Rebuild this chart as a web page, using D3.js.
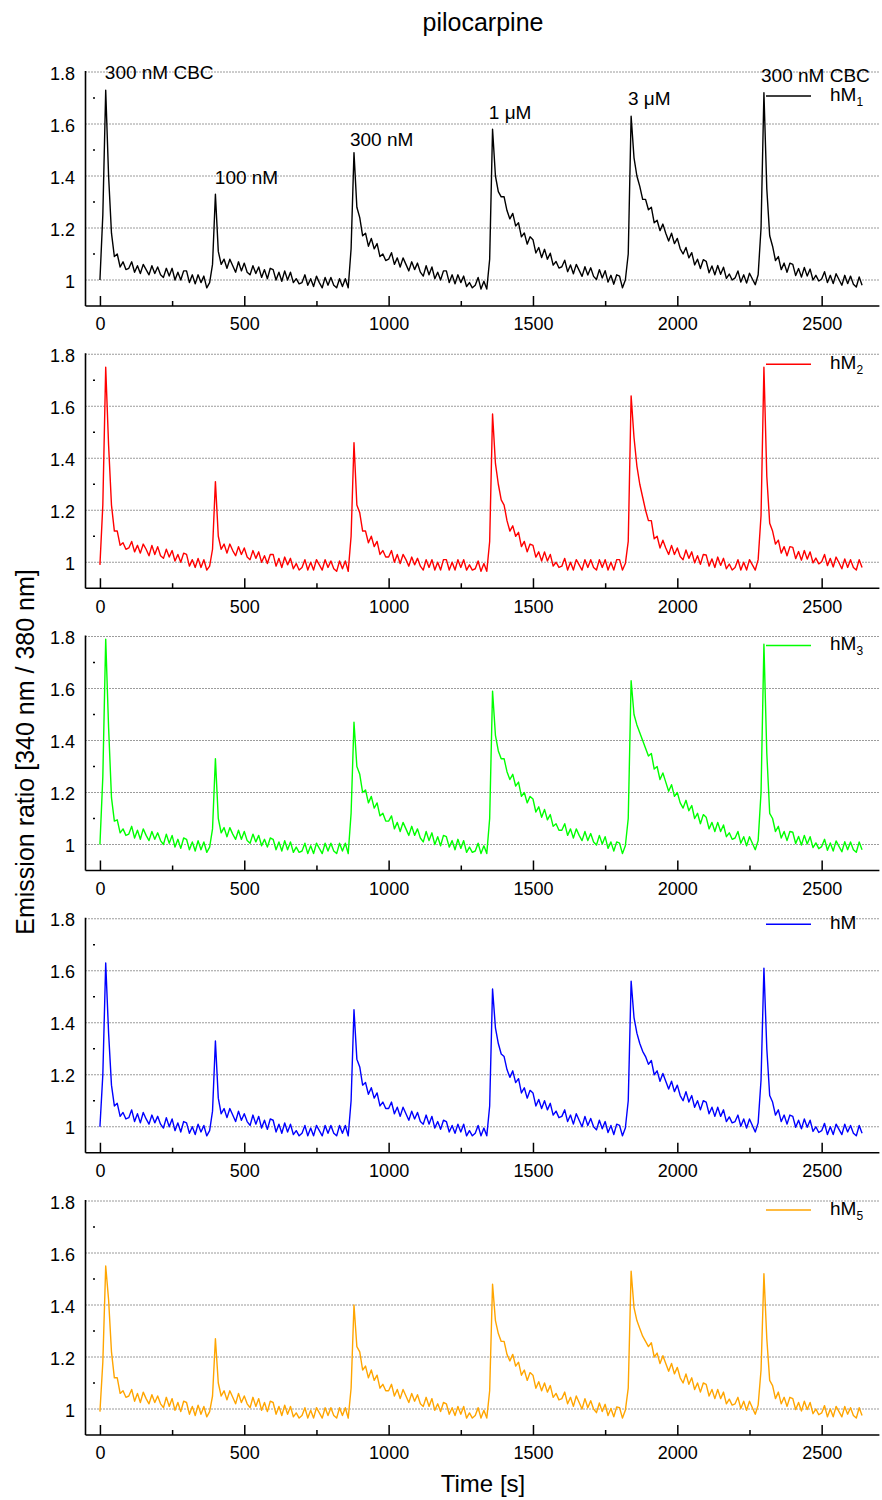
<!DOCTYPE html>
<html>
<head>
<meta charset="utf-8">
<script src="https://cdn.jsdelivr.net/npm/d3@7"></script>
<style>
  body { margin: 0; background: #fff; }
  text { font-family: "Liberation Sans", Arial, sans-serif; fill: #000; }
</style>
</head>
<body>
<div id="chart"></div>
<script>
// sampling step of the traces [s]
const dt = 10;

// emission ratio traces, one value every 10 s from t = 0
const hM1 = [
  1.00, 1.25, 1.73, 1.40, 1.18, 1.09, 1.10, 1.05, 1.07, 1.04,
  1.045, 1.07, 1.03, 1.055, 1.025, 1.06, 1.04, 1.02, 1.055, 1.025,
  1.05, 1.02, 1.01, 1.045, 1.015, 1.045, 1.00, 1.03, 1.00, 1.035,
  1.035, 0.99, 1.02, 0.985, 1.02, 0.99, 1.015, 0.97, 0.99, 1.06,
  1.33, 1.11, 1.06, 1.08, 1.045, 1.08, 1.055, 1.03, 1.07, 1.035,
  1.065, 1.03, 1.02, 1.055, 1.025, 1.05, 1.01, 1.04, 1.005, 1.045,
  1.04, 1.00, 1.03, 0.995, 1.035, 1.00, 1.03, 0.99, 1.005, 0.985,
  0.99, 1.02, 0.98, 1.005, 0.975, 1.015, 0.99, 0.97, 1.01, 0.98,
  1.01, 0.98, 0.97, 1.005, 0.975, 1.005, 0.97, 1.12, 1.49, 1.28,
  1.24, 1.17, 1.18, 1.13, 1.16, 1.12, 1.14, 1.09, 1.10, 1.075,
  1.08, 1.105, 1.06, 1.085, 1.05, 1.085, 1.06, 1.035, 1.07, 1.04,
  1.065, 1.03, 1.015, 1.055, 1.02, 1.05, 1.005, 1.03, 1.00, 1.035,
  1.035, 0.99, 1.02, 0.985, 1.02, 0.99, 1.015, 0.975, 0.99, 0.97,
  0.98, 1.01, 0.965, 0.995, 0.965, 1.08, 1.58, 1.40, 1.34, 1.32,
  1.32, 1.267, 1.235, 1.256, 1.208, 1.22, 1.166, 1.181, 1.138, 1.166,
  1.155, 1.104, 1.125, 1.086, 1.118, 1.08, 1.103, 1.057, 1.071, 1.046,
  1.051, 1.076, 1.032, 1.058, 1.024, 1.06, 1.037, 1.014, 1.051, 1.019,
  1.047, 1.014, 1.002, 1.04, 1.008, 1.036, 0.992, 1.018, 0.984, 1.02,
  1.015, 0.97, 1.00, 1.10, 1.63, 1.47, 1.40, 1.36, 1.31, 1.31,
  1.27, 1.28, 1.22, 1.23, 1.19, 1.215, 1.18, 1.15, 1.18, 1.14,
  1.16, 1.12, 1.10, 1.125, 1.085, 1.105, 1.058, 1.08, 1.044, 1.078,
  1.072, 1.028, 1.054, 1.02, 1.056, 1.022, 1.049, 1.006, 1.023, 1.00,
  1.008, 1.035, 0.992, 1.02, 0.988, 1.026, 1.004, 0.982, 1.02, 1.20,
  1.72, 1.35, 1.17, 1.13, 1.075, 1.09, 1.04, 1.065, 1.03, 1.065,
  1.06, 1.017, 1.044, 1.011, 1.048, 1.015, 1.042, 1.00, 1.018, 0.996,
  1.004, 1.032, 0.99, 1.018, 0.986, 1.024, 1.002, 0.98, 1.018, 0.986,
  1.015, 0.984, 0.973, 1.012, 0.98
];

const hM2 = [
  0.99, 1.22, 1.75, 1.45, 1.22, 1.12, 1.12, 1.065, 1.075, 1.05,
  1.055, 1.08, 1.04, 1.065, 1.035, 1.07, 1.05, 1.025, 1.065, 1.03,
  1.06, 1.025, 1.015, 1.05, 1.02, 1.045, 1.005, 1.03, 1.00, 1.035,
  1.03, 0.985, 1.01, 0.98, 1.015, 0.98, 1.01, 0.97, 0.985, 1.05,
  1.31, 1.10, 1.05, 1.07, 1.035, 1.07, 1.045, 1.025, 1.06, 1.03,
  1.055, 1.02, 1.01, 1.045, 1.015, 1.04, 1.00, 1.025, 0.995, 1.03,
  1.03, 0.985, 1.015, 0.98, 1.02, 0.99, 1.015, 0.975, 0.995, 0.97,
  0.98, 1.01, 0.97, 1.00, 0.97, 1.01, 0.99, 0.97, 1.01, 0.98,
  1.005, 0.975, 0.965, 1.005, 0.975, 1.005, 0.965, 1.10, 1.46, 1.22,
  1.19, 1.12, 1.12, 1.075, 1.10, 1.06, 1.08, 1.03, 1.045, 1.02,
  1.02, 1.045, 1.00, 1.03, 0.995, 1.03, 1.01, 0.985, 1.02, 0.99,
  1.015, 0.985, 0.97, 1.01, 0.98, 1.01, 0.97, 1.00, 0.97, 1.01,
  1.01, 0.97, 1.00, 0.97, 1.01, 0.98, 1.01, 0.97, 0.99, 0.97,
  0.975, 1.005, 0.965, 0.995, 0.965, 1.08, 1.57, 1.38, 1.30, 1.24,
  1.22, 1.16, 1.12, 1.14, 1.10, 1.115, 1.06, 1.08, 1.04, 1.07,
  1.065, 1.02, 1.04, 1.005, 1.04, 1.005, 1.03, 0.985, 1.00, 0.98,
  0.985, 1.015, 0.97, 1.00, 0.97, 1.01, 0.99, 0.97, 1.01, 0.98,
  1.01, 0.98, 0.97, 1.01, 0.98, 1.01, 0.97, 1.00, 0.97, 1.01,
  1.01, 0.97, 0.995, 1.08, 1.64, 1.48, 1.37, 1.30, 1.25, 1.20,
  1.16, 1.16, 1.09, 1.10, 1.055, 1.085, 1.055, 1.03, 1.065, 1.03,
  1.055, 1.022, 1.01, 1.047, 1.015, 1.04, 0.998, 1.025, 0.992, 1.03,
  1.028, 0.985, 1.013, 0.98, 1.02, 0.988, 1.015, 0.975, 0.993, 0.97,
  0.98, 1.01, 0.97, 1.00, 0.97, 1.01, 0.99, 0.97, 1.01, 1.18,
  1.75, 1.33, 1.15, 1.12, 1.07, 1.085, 1.035, 1.06, 1.025, 1.06,
  1.057, 1.014, 1.041, 1.008, 1.045, 1.012, 1.04, 0.998, 1.016, 0.994,
  1.002, 1.03, 0.987, 1.015, 0.982, 1.02, 0.998, 0.975, 1.013, 0.98,
  1.01, 0.98, 0.97, 1.01, 0.98
];

const hM3 = [
  1.00, 1.26, 1.79, 1.45, 1.18, 1.09, 1.095, 1.045, 1.06, 1.035,
  1.04, 1.07, 1.025, 1.055, 1.02, 1.06, 1.035, 1.015, 1.05, 1.02,
  1.045, 1.015, 1.00, 1.04, 1.005, 1.035, 0.99, 1.02, 0.985, 1.025,
  1.02, 0.98, 1.01, 0.975, 1.015, 0.98, 1.01, 0.97, 0.99, 1.06,
  1.33, 1.10, 1.045, 1.065, 1.03, 1.065, 1.04, 1.02, 1.055, 1.02,
  1.05, 1.015, 1.005, 1.04, 1.01, 1.035, 0.995, 1.02, 0.99, 1.025,
  1.02, 0.98, 1.01, 0.975, 1.015, 0.98, 1.01, 0.97, 0.99, 0.97,
  0.975, 1.005, 0.965, 0.995, 0.965, 1.005, 0.985, 0.965, 1.005, 0.975,
  1.005, 0.975, 0.965, 1.005, 0.975, 1.005, 0.965, 1.12, 1.47, 1.30,
  1.27, 1.20, 1.21, 1.16, 1.185, 1.14, 1.16, 1.11, 1.12, 1.09,
  1.09, 1.11, 1.06, 1.085, 1.05, 1.085, 1.06, 1.035, 1.07, 1.035,
  1.06, 1.025, 1.01, 1.05, 1.015, 1.045, 1.00, 1.03, 0.995, 1.035,
  1.03, 0.99, 1.015, 0.98, 1.02, 0.985, 1.015, 0.97, 0.99, 0.97,
  0.975, 1.005, 0.965, 0.995, 0.965, 1.10, 1.59, 1.42, 1.36, 1.33,
  1.33, 1.28, 1.25, 1.27, 1.225, 1.24, 1.185, 1.20, 1.16, 1.185,
  1.175, 1.125, 1.145, 1.105, 1.135, 1.095, 1.115, 1.07, 1.08, 1.055,
  1.055, 1.08, 1.035, 1.06, 1.025, 1.06, 1.035, 1.015, 1.05, 1.015,
  1.042, 1.01, 0.998, 1.035, 1.002, 1.03, 0.985, 1.01, 0.975, 1.01,
  1.005, 0.965, 0.995, 1.10, 1.63, 1.50, 1.46, 1.43, 1.40, 1.37,
  1.34, 1.35, 1.29, 1.30, 1.25, 1.275, 1.24, 1.205, 1.23, 1.185,
  1.20, 1.16, 1.14, 1.17, 1.13, 1.15, 1.10, 1.12, 1.08, 1.115,
  1.105, 1.06, 1.085, 1.05, 1.085, 1.05, 1.075, 1.03, 1.045, 1.02,
  1.025, 1.05, 1.005, 1.03, 0.995, 1.03, 1.005, 0.98, 1.015, 1.20,
  1.77, 1.35, 1.12, 1.10, 1.05, 1.07, 1.025, 1.05, 1.015, 1.05,
  1.047, 1.004, 1.031, 0.998, 1.035, 1.002, 1.03, 0.988, 1.006, 0.984,
  0.992, 1.02, 0.978, 1.006, 0.975, 1.014, 0.993, 0.972, 1.011, 0.98,
  1.01, 0.98, 0.97, 1.01, 0.98
];

const hM4 = [
  1.00, 1.20, 1.63, 1.36, 1.16, 1.08, 1.09, 1.04, 1.055, 1.03,
  1.035, 1.065, 1.02, 1.05, 1.015, 1.055, 1.03, 1.01, 1.045, 1.015,
  1.04, 1.01, 0.995, 1.035, 1.00, 1.03, 0.985, 1.015, 0.98, 1.02,
  1.015, 0.975, 1.00, 0.97, 1.01, 0.98, 1.005, 0.965, 0.985, 1.06,
  1.33, 1.11, 1.05, 1.07, 1.035, 1.07, 1.045, 1.02, 1.06, 1.025,
  1.05, 1.02, 1.005, 1.045, 1.01, 1.04, 0.995, 1.025, 0.99, 1.03,
  1.025, 0.98, 1.01, 0.975, 1.015, 0.98, 1.01, 0.97, 0.985, 0.965,
  0.975, 1.005, 0.965, 0.995, 0.965, 1.005, 0.985, 0.965, 1.005, 0.975,
  1.005, 0.975, 0.965, 1.005, 0.975, 1.005, 0.965, 1.10, 1.45, 1.26,
  1.23, 1.16, 1.17, 1.125, 1.15, 1.11, 1.13, 1.08, 1.095, 1.07,
  1.07, 1.095, 1.05, 1.075, 1.04, 1.075, 1.05, 1.025, 1.06, 1.03,
  1.055, 1.02, 1.01, 1.045, 1.01, 1.04, 0.995, 1.02, 0.99, 1.025,
  1.02, 0.98, 1.005, 0.975, 1.01, 0.98, 1.01, 0.965, 0.985, 0.965,
  0.975, 1.005, 0.965, 0.995, 0.965, 1.08, 1.53, 1.38, 1.32, 1.28,
  1.27, 1.22, 1.19, 1.215, 1.17, 1.185, 1.13, 1.15, 1.11, 1.14,
  1.13, 1.08, 1.105, 1.07, 1.10, 1.065, 1.09, 1.045, 1.06, 1.035,
  1.04, 1.065, 1.02, 1.045, 1.01, 1.05, 1.025, 1.00, 1.04, 1.005,
  1.032, 1.00, 0.988, 1.025, 0.992, 1.02, 0.978, 1.005, 0.97, 1.01,
  1.005, 0.965, 0.995, 1.10, 1.56, 1.42, 1.36, 1.32, 1.29, 1.27,
  1.24, 1.255, 1.20, 1.215, 1.175, 1.205, 1.175, 1.145, 1.175, 1.135,
  1.16, 1.12, 1.10, 1.135, 1.095, 1.12, 1.075, 1.10, 1.065, 1.10,
  1.095, 1.05, 1.075, 1.04, 1.075, 1.04, 1.065, 1.02, 1.038, 1.015,
  1.02, 1.045, 1.002, 1.03, 0.995, 1.03, 1.005, 0.98, 1.015, 1.18,
  1.61, 1.30, 1.12, 1.095, 1.045, 1.065, 1.02, 1.045, 1.01, 1.045,
  1.04, 0.998, 1.025, 0.992, 1.03, 0.998, 1.025, 0.982, 1.00, 0.978,
  0.985, 1.013, 0.97, 1.00, 0.97, 1.01, 0.99, 0.97, 1.01, 0.98,
  1.005, 0.975, 0.965, 1.005, 0.975
];

const hM5 = [
  0.99, 1.18, 1.55, 1.42, 1.22, 1.12, 1.12, 1.06, 1.07, 1.045,
  1.05, 1.075, 1.03, 1.06, 1.025, 1.065, 1.04, 1.02, 1.055, 1.025,
  1.05, 1.02, 1.005, 1.045, 1.01, 1.04, 0.995, 1.025, 0.99, 1.03,
  1.025, 0.98, 1.01, 0.975, 1.015, 0.98, 1.01, 0.97, 0.99, 1.05,
  1.27, 1.10, 1.05, 1.07, 1.035, 1.07, 1.045, 1.02, 1.06, 1.025,
  1.05, 1.02, 1.005, 1.045, 1.01, 1.04, 0.995, 1.025, 0.99, 1.03,
  1.025, 0.98, 1.01, 0.975, 1.015, 0.98, 1.01, 0.97, 0.985, 0.965,
  0.975, 1.005, 0.965, 0.995, 0.965, 1.005, 0.985, 0.965, 1.005, 0.975,
  1.005, 0.975, 0.965, 1.005, 0.975, 1.005, 0.965, 1.08, 1.40, 1.24,
  1.22, 1.15, 1.165, 1.12, 1.15, 1.11, 1.13, 1.08, 1.095, 1.07,
  1.07, 1.095, 1.05, 1.075, 1.04, 1.075, 1.05, 1.025, 1.06, 1.03,
  1.055, 1.02, 1.01, 1.045, 1.01, 1.04, 0.995, 1.02, 0.99, 1.025,
  1.02, 0.98, 1.005, 0.975, 1.01, 0.98, 1.01, 0.965, 0.985, 0.965,
  0.975, 1.005, 0.965, 0.995, 0.965, 1.07, 1.48, 1.34, 1.29, 1.26,
  1.26, 1.21, 1.185, 1.21, 1.165, 1.18, 1.13, 1.15, 1.11, 1.14,
  1.13, 1.08, 1.105, 1.07, 1.10, 1.065, 1.09, 1.045, 1.06, 1.035,
  1.04, 1.065, 1.02, 1.045, 1.01, 1.05, 1.025, 1.00, 1.04, 1.005,
  1.032, 1.00, 0.986, 1.023, 0.99, 1.018, 0.975, 1.002, 0.97, 1.008,
  1.005, 0.965, 0.995, 1.08, 1.53, 1.39, 1.34, 1.31, 1.28, 1.26,
  1.24, 1.255, 1.20, 1.215, 1.175, 1.205, 1.175, 1.145, 1.175, 1.135,
  1.16, 1.12, 1.10, 1.135, 1.095, 1.12, 1.075, 1.10, 1.065, 1.10,
  1.095, 1.05, 1.075, 1.04, 1.075, 1.04, 1.065, 1.02, 1.038, 1.015,
  1.02, 1.045, 1.002, 1.03, 0.995, 1.03, 1.005, 0.98, 1.015, 1.15,
  1.52, 1.27, 1.11, 1.09, 1.04, 1.065, 1.02, 1.045, 1.01, 1.045,
  1.04, 0.998, 1.025, 0.992, 1.03, 0.998, 1.025, 0.982, 1.00, 0.978,
  0.985, 1.013, 0.97, 1.00, 0.97, 1.01, 0.99, 0.97, 1.01, 0.98,
  1.005, 0.975, 0.965, 1.005, 0.975
];

const receptorSubs = ["1", "2", "3", "", "5"];
const lineColors = ["#000000", "#ff0000", "#00ff00", "#0000ff", "#ffa500"];
const legendDrop = [24, 10, 9, 5.5, 9];   // legend line below the 1.8 grid line, px

// stimulus labels in the top panel, placed at [time, ratio]
const stimLabels = ["300 nM CBC", "100 nM", "300 nM", "1 μM", "3 μM", "300 nM CBC"];
const stimTimes = [17, 398, 866, 1347, 1829, 2290];
const stimLevels = [1.773, 1.369, 1.515, 1.619, 1.673, 1.762];

const xTicks = [0, 500, 1000, 1500, 2000, 2500];
const xMinorTicks = [250, 750, 1250, 1750, 2250];
const yTicks = [1, 1.2, 1.4, 1.6, 1.8];
const yMinorTicks = [1.1, 1.3, 1.5, 1.7];

const traces = [hM1, hM2, hM3, hM4, hM5];
const time = d3.range(hM1.length).map(i => i * dt);

// Layout
const W = 882, H = 1500;
const panelTop0 = 72, panelStep = 282.25, panelH = 234;

const svg = d3.select("#chart")
  .append("svg")
  .attr("width", W)
  .attr("height", H)
  .style("background", "#fff");

const x = d3.scaleLinear().domain([-50, 2700]).range([85.5, 879.4]);

svg.append("text")
  .attr("x", 483)
  .attr("y", 31)
  .attr("text-anchor", "middle")
  .style("font-size", "25px")
  .text("pilocarpine");

traces.forEach((values, p) => {
  const top = panelTop0 + p * panelStep;
  const y = d3.scaleLinear().domain([0.9, 1.8]).range([top + panelH, top]);
  const g = svg.append("g");
  const x0 = x.range()[0], x1 = x.range()[1];
  const yb = y(0.9);

  // dotted grid
  g.selectAll(".grid")
    .data(yTicks)
    .enter()
    .append("line")
    .attr("x1", x0).attr("x2", x1)
    .attr("y1", d => y(d)).attr("y2", d => y(d))
    .attr("stroke", "#222")
    .attr("stroke-width", 0.9)
    .attr("stroke-dasharray", "1,2");

  // minor y ticks (dots)
  g.selectAll(".ymin")
    .data(yMinorTicks)
    .enter()
    .append("line")
    .attr("x1", x0 + 7.5).attr("x2", x0 + 9.5)
    .attr("y1", d => y(d)).attr("y2", d => y(d))
    .attr("stroke", "#000")
    .attr("stroke-width", 1.5);

  // y axis labels
  const yAxis = d3.axisLeft(y).tickValues(yTicks).tickSize(0).tickPadding(10.5).tickFormat(d => String(d));
  const ya = g.append("g").attr("transform", `translate(${x0},0)`).call(yAxis);
  ya.select(".domain").remove();
  ya.selectAll("text").style("font-size", "18px").attr("dy", "0.4em").style("font-family", null);

  // x axis, ticks pointing inward
  const xAxis = d3.axisBottom(x).tickValues(xTicks).tickFormat(d3.format("d"))
    .tickSizeInner(-10).tickSizeOuter(0).tickPadding(11.5);
  const xa = g.append("g").attr("transform", `translate(0,${yb})`).call(xAxis);
  xa.select(".domain").remove();
  xa.selectAll(".tick line").attr("stroke", "#000").attr("stroke-width", 1.5);
  xa.selectAll("text").style("font-size", "18px").style("font-family", null);

  const xm = g.append("g").attr("transform", `translate(0,${yb})`)
    .call(d3.axisBottom(x).tickValues(xMinorTicks).tickSizeInner(-5).tickSizeOuter(0).tickFormat(""));
  xm.select(".domain").remove();
  xm.selectAll(".tick line").attr("stroke", "#000").attr("stroke-width", 1.5);

  // trace
  const line = d3.line()
    .x((d, i) => x(time[i]))
    .y(d => y(d));
  g.append("path")
    .datum(values)
    .attr("d", line)
    .attr("fill", "none")
    .attr("stroke", lineColors[p])
    .attr("stroke-width", 1.4)
    .attr("stroke-linejoin", "round");

  // axis lines
  g.append("line")
    .attr("x1", x0).attr("x2", x0)
    .attr("y1", y(1.8) - 1).attr("y2", yb)
    .attr("stroke", "#000").attr("stroke-width", 1.6);
  g.append("line")
    .attr("x1", x0).attr("x2", x1)
    .attr("y1", yb).attr("y2", yb)
    .attr("stroke", "#000").attr("stroke-width", 1.6);

  // legend
  const ly = y(1.8) + legendDrop[p];
  g.append("line")
    .attr("x1", 766).attr("x2", 811)
    .attr("y1", ly).attr("y2", ly)
    .attr("stroke", lineColors[p])
    .attr("stroke-width", 1.6);
  const lt = g.append("text")
    .attr("x", 830)
    .attr("y", ly + 4.5)
    .style("font-size", "19px");
  lt.append("tspan").text("hM");
  if (receptorSubs[p]) {
    lt.append("tspan").attr("dy", 5).style("font-size", "12px").text(receptorSubs[p]);
  }

  // stimulus labels (top panel only)
  if (p === 0) {
    g.selectAll(".stim")
      .data(stimLabels)
      .enter()
      .append("text")
      .attr("x", (d, i) => x(stimTimes[i]))
      .attr("y", (d, i) => y(stimLevels[i]))
      .style("font-size", "19px")
      .text(d => d);
  }
});

// axis titles
svg.append("text")
  .attr("x", 483)
  .attr("y", 1492)
  .attr("text-anchor", "middle")
  .style("font-size", "24px")
  .text("Time [s]");

svg.append("text")
  .attr("transform", "translate(34,752) rotate(-90)")
  .attr("text-anchor", "middle")
  .style("font-size", "25px")
  .text("Emission ratio [340 nm / 380 nm]");
</script>
</body>
</html>
